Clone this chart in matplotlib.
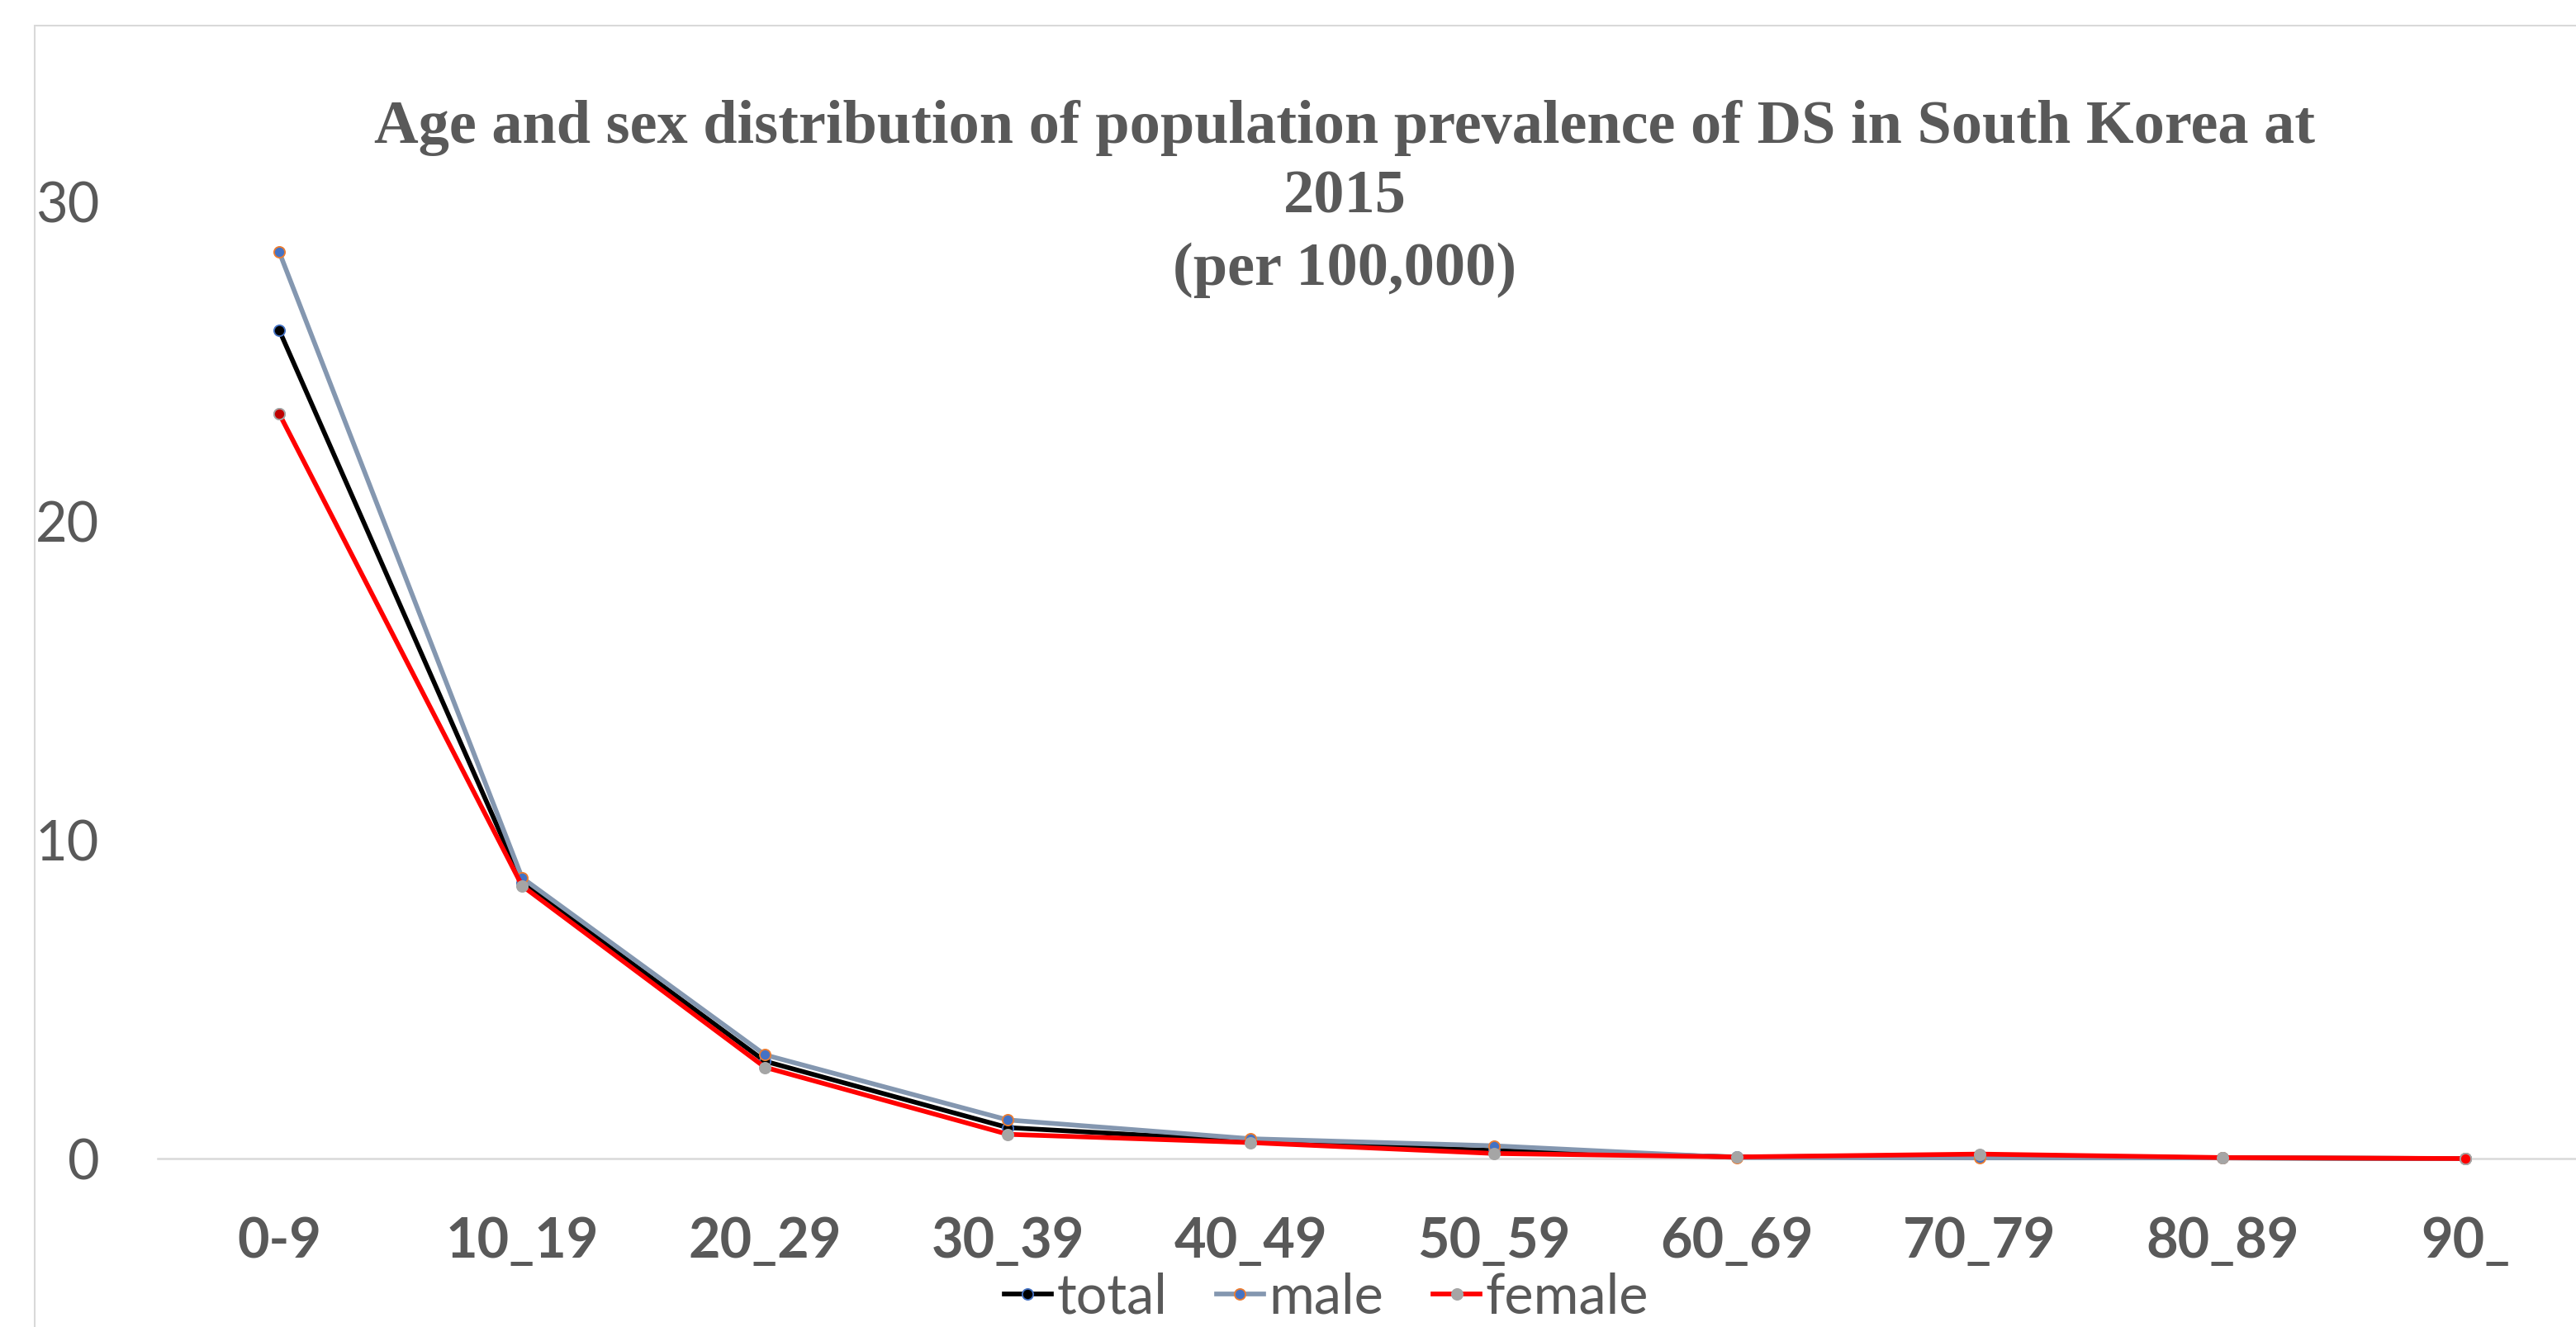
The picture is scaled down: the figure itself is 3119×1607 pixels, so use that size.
import numpy as np
import matplotlib
matplotlib.use("Agg")
import matplotlib.pyplot as plt
from matplotlib.patches import Rectangle

# data
age_groups = ["0-9", "10_19", "20_29", "30_39", "40_49", "50_59", "60_69", "70_79", "80_89", "90_"]
total = [25.97, 8.65, 3.05, 0.97, 0.55, 0.25, 0.05, 0.08, 0.02, 0.0]
male = [28.42, 8.80, 3.25, 1.21, 0.62, 0.40, 0.03, 0.02, 0.02, 0.0]
female = [23.35, 8.55, 2.86, 0.76, 0.50, 0.16, 0.05, 0.14, 0.03, 0.0]
y_ticks = [0, 10, 20, 30]
title_lines = ["Age and sex distribution of population prevalence of DS in South Korea at",
               "2015",
               "(per 100,000)"]

W, H = 3119, 1608
TXT = "#595959"
GRID = "#D9D9D9"


def px_x(p):
    return p / W


def px_y(p):
    # pixel row from top -> figure fraction
    return 1 - p / H


def main():
    fig = plt.figure(figsize=(W / 100, H / 100), dpi=100)

    # chart border (only the left and top edges are inside the picture)
    fig.patches.append(Rectangle((px_x(42), -0.1), 1.2, px_y(32) + 0.1,
                                 transform=fig.transFigure, fill=False,
                                 edgecolor=GRID, linewidth=1.5))

    ax = fig.add_axes([px_x(191), px_y(1404), (3132 - 191) / W, (1404 - 245) / H])
    x = np.arange(len(age_groups))

    ax.axhline(0, color=GRID, linewidth=1.8, zorder=1, clip_on=False)

    lw = 4.1
    ms = 9.5
    l_total, = ax.plot(x, total, color="black", linewidth=lw, marker="o",
                       markersize=ms, markerfacecolor="black", markeredgecolor="#4472C4",
                       markeredgewidth=1.3, label="total", clip_on=False, zorder=3)
    l_male, = ax.plot(x, male, color="#8497B0", linewidth=lw, marker="o",
                      markersize=ms, markerfacecolor="#4472C4", markeredgecolor="#ED7D31",
                      markeredgewidth=1.3, label="male", clip_on=False, zorder=4)
    l_female, = ax.plot(x, female, color="#FF0000", linewidth=lw, marker="o",
                        markersize=ms, markerfacecolor="#A5A5A5", markeredgecolor="#A5A5A5",
                        markeredgewidth=1.3, label="female", clip_on=False, zorder=5)
    # the first and last female points have red fills
    ax.plot(x, female, linestyle="none", marker="o", markersize=ms, markevery=[0],
            markerfacecolor="#C00000", markeredgecolor="#A5A5A5", markeredgewidth=1.3,
            clip_on=False, zorder=6)
    ax.plot(x, female, linestyle="none", marker="o", markersize=ms, markevery=[len(x) - 1],
            markerfacecolor="#FF0000", markeredgecolor="#A5A5A5", markeredgewidth=1.3,
            clip_on=False, zorder=6)

    ax.set_xlim(-0.5, len(x) - 0.5)
    ax.set_ylim(0, 30)
    ax.set_yticks(y_ticks)
    ax.set_yticklabels([str(v) for v in y_ticks], fontsize=48, color=TXT, family="Lato")
    ax.set_xticks(x)
    ax.set_xticklabels(age_groups, fontsize=48, color=TXT, family="Lato", fontweight="bold")
    ax.tick_params(axis="y", length=0, pad=51)
    ax.tick_params(axis="x", length=0, pad=50)
    for s in ax.spines.values():
        s.set_visible(False)

    baselines = [173, 258, 345]
    for line, b in zip(title_lines, baselines):
        fig.text(px_x(1628), px_y(b), line, ha="center", va="baseline",
                 fontsize=53.5, fontweight="bold", color=TXT, family="Liberation Serif")

    leg = fig.legend(handles=[l_total, l_male, l_female], loc="center",
                     bbox_to_anchor=(px_x(1606), px_y(1572)), ncol=3, frameon=False,
                     prop={"family": "Lato", "size": 48}, handlelength=0.85,
                     handletextpad=0.1, columnspacing=0.9, borderpad=0, borderaxespad=0)
    for t in leg.get_texts():
        t.set_color(TXT)

    fig.savefig("out.png", dpi=100)


if __name__ == "__main__":
    main()
